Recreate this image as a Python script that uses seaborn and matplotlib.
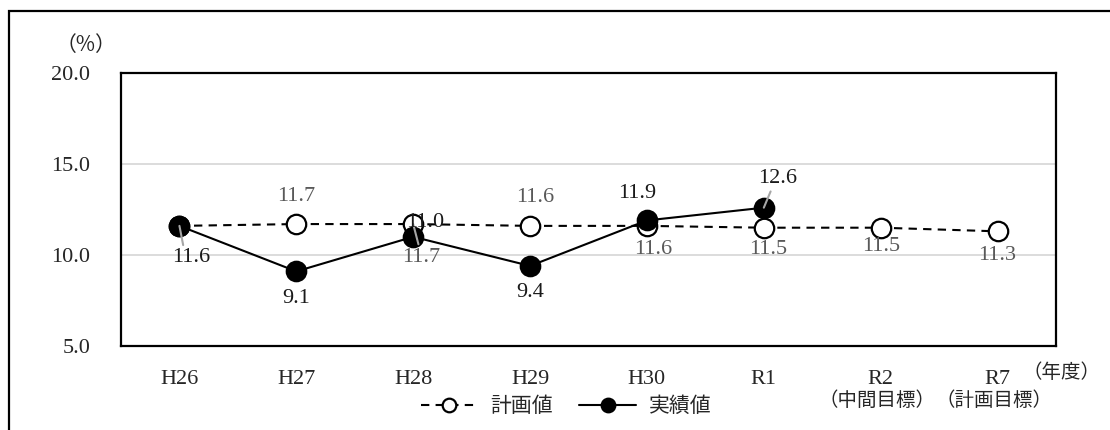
import numpy as np
import pandas as pd
import matplotlib
matplotlib.use("Agg")
import matplotlib.pyplot as plt
from matplotlib.patches import Rectangle
import seaborn as sns

# Fiscal years and rates (%)
years = ["H26", "H27", "H28", "H29", "H30", "R1", "R2", "R7"]
year_notes = ["", "", "", "", "", "", "（中間目標）", "（計画目標）"]
plan = [11.6, 11.7, 11.7, 11.6, 11.6, 11.5, 11.5, 11.3]
actual = [11.6, 9.1, 11.0, 9.4, 11.9, 12.6, np.nan, np.nan]

sns.set_theme(style="white")
NUM_FONT = ["Liberation Serif", "Noto Sans CJK JP"]
JP_FONT = ["Noto Sans CJK JP", "DejaVu Sans"]
plt.rcParams["font.family"] = NUM_FONT

df = pd.DataFrame({"pos": np.arange(len(years)), "plan": plan, "actual": actual})

fig = plt.figure(figsize=(11.1, 4.3), dpi=100)
ax = fig.add_axes([121 / 1110, 1 - 346 / 430, (1056 - 121) / 1110, (346 - 73) / 430])

# outer frame (runs off the right and bottom edges)
fig.patches.append(Rectangle((9 / 1110, -0.2), 1.2, 1.2 - 11 / 430,
                             transform=fig.transFigure, fill=False,
                             edgecolor="black", linewidth=1.6, zorder=0))

for v in (10, 15):
    ax.axhline(v, color="#d9d9d9", lw=1.3, zorder=0)

sns.lineplot(data=df, x="pos", y="plan", ax=ax, color="black", lw=1.5,
             linestyle=(0, (4, 3)), marker="o", markersize=14,
             markerfacecolor="white", markeredgecolor="black",
             markeredgewidth=1.6, zorder=2, label="計画値", legend=False)
sns.lineplot(data=df.dropna(), x="pos", y="actual", ax=ax, color="black", lw=1.5,
             marker="o", markersize=14, markerfacecolor="black",
             markeredgecolor="black", markeredgewidth=1.6, zorder=3,
             label="実績値", legend=False)

ax.set_xlim(-0.5, len(years) - 0.5)
ax.set_ylim(5, 20)
ax.set_yticks([5, 10, 15, 20])
ax.set_yticklabels([f"{v:.1f}" for v in (5, 10, 15, 20)], fontsize=16)
ax.set_xticks(df["pos"])
ax.set_xticklabels(years, fontsize=16)
ax.tick_params(axis="y", length=0, pad=22, colors="#262626")
ax.tick_params(axis="x", length=0, pad=17, colors="#262626")
ax.set_xlabel("")
ax.set_ylabel("")
for s in ax.spines.values():
    s.set_visible(True)
    s.set_color("black")
    s.set_linewidth(1.6)

# second line under the target years
for i, note in enumerate(year_notes):
    if note:
        ax.annotate(note, xy=(i, 0), xycoords=ax.get_xaxis_transform(),
                    xytext=(-4, -54), textcoords="offset pixels",
                    ha="center", va="center", fontsize=14, family=JP_FONT,
                    color="#262626", annotation_clip=False)

PLAN_C = "#595959"
ACT_C = "#1a1a1a"
LEADER = "#a6a6a6"

# value labels: (index, offset px, leader relpos or None)
plan_labels = [
    (1, (0, 28), None),
    (2, (8, -33), (0.45, 1.0)),
    (3, (5, 28), None),
    (4, (6, -24), None),
    (5, (4, -22), None),
    (6, (0, -19), None),
    (7, (0, -24), None),
]
act_labels = [
    (0, (12, -32), (0.3, 1.0)),
    (1, (0, -27), None),
    (2, (12, 14), None),
    (3, (0, -27), None),
    (4, (-10, 27), None),
    (5, (14, 29), (0.35, 0.0)),
]


def put_label(i, vals, off, color, relpos):
    kw = {}
    if relpos is not None:
        kw["arrowprops"] = dict(arrowstyle="-", color=LEADER, lw=1.5,
                                shrinkA=0, shrinkB=0, relpos=relpos)
    ax.annotate(f"{vals[i]:.1f}", xy=(i, vals[i]), xytext=off,
                textcoords="offset pixels", ha="center", va="center",
                fontsize=16, color=color, zorder=6, **kw)


for i, off, rp in plan_labels:
    put_label(i, plan, off, PLAN_C, rp)
for i, off, rp in act_labels:
    put_label(i, actual, off, ACT_C, rp)

fig.text(86 / 1110, 1 - 45 / 430, "（%）", fontsize=15, ha="center", va="center",
         family=JP_FONT, color="#262626")
fig.text(1062 / 1110, 1 - 373 / 430, "（年度）", fontsize=14, ha="center", va="center",
         family=JP_FONT, color="#262626")

handles, labels = ax.get_legend_handles_labels()
fig.legend(handles, labels, loc="center", bbox_to_anchor=(566 / 1110, 1 - 406 / 430),
           ncol=2, frameon=False, handlelength=2.75, columnspacing=1.25,
           handletextpad=0.6, prop={"family": JP_FONT, "size": 15},
           labelcolor="#262626", markerscale=0.7)

fig.savefig("out.png", dpi=100, facecolor="white")
